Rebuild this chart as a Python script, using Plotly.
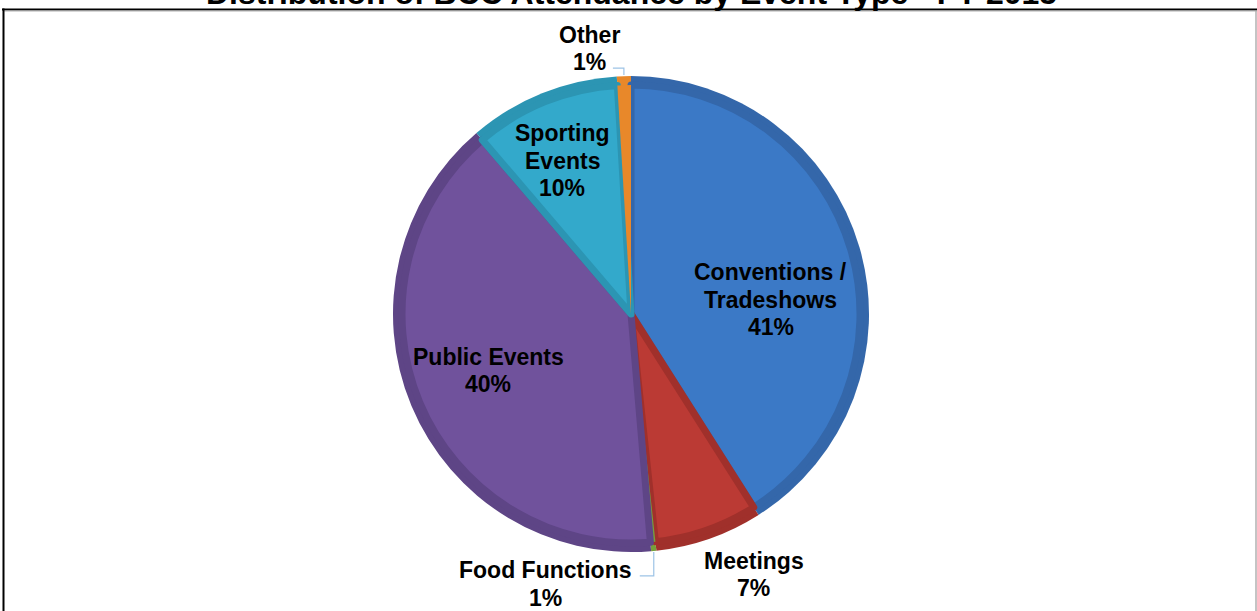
import numpy as np
import plotly.graph_objects as go

W, H = 1257, 611

# ---------------- data ----------------
categories = ["Conventions / Tradeshows", "Meetings", "Food Functions",
              "Public Events", "Sporting Events", "Other"]
shares = [41.0, 7.3, 0.35, 40.1, 10.3, 0.95]
pct_labels = ["41%", "7%", "1%", "40%", "10%", "1%"]
label_lines = [["Conventions /", "Tradeshows"], ["Meetings"], ["Food Functions"],
               ["Public Events"], ["Sporting", "Events"], ["Other"]]
title_text = "Distribution of BCC Attendance by Event Type - FY 2015"

# ---------------- style ----------------
light_colors = ["#3b79c6", "#bb3a34", "#76a03b", "#70529c", "#33a9cb", "#e8882a"]
dark_colors = ["#3467aa", "#a0302b", "#76a03b", "#5e4586", "#2c95b3", "#e8882a"]
line_w = [7, 7, 0, 7, 7, 0]

CX, CY, R = 631, 314, 238          # pie centre / radius in pixels
R_IN = 229
FONT = "Liberation Sans, Arial, sans-serif"
FS = 23
LINE_H = 27.5
leader_col = "#9dc3e6"

# label placement: (angle offset in deg from slice mid-angle, radius factor)
label_place = [(10.3, 0.59), (-6.0, 1.21), (23.1, 1.19), (1.1, 0.645), (-2.2, 0.705), (-7.2, 1.13)]


def px(x):
    return x / W


def py(y):
    return 1 - y / H


def domain(r):
    return dict(x=[px(CX - r), px(CX + r)], y=[py(CY + r), py(CY - r)])


fig = go.Figure()
common = dict(labels=categories, values=shares, sort=False, direction="clockwise",
              rotation=0, textinfo="none", hoverinfo="label+percent", showlegend=False)
fig.add_trace(go.Pie(domain=domain(R), marker=dict(colors=dark_colors, line=dict(width=0)), **common))
fig.add_trace(go.Pie(domain=domain(R_IN),
                     marker=dict(colors=light_colors, line=dict(color=dark_colors, width=line_w)),
                     **common))

# slice mid-angles (clockwise from 12 o'clock) derived from data
vals = np.array(shares, dtype=float)
frac = vals / vals.sum()
ends = np.cumsum(frac)
starts = ends - frac
mids = (starts + ends) / 2 * 360.0

annotations = []
shapes = []
for i, cat in enumerate(categories):
    off, rf = label_place[i]
    a = np.radians(mids[i] + off)
    lx = CX + rf * R * np.sin(a)
    ly = CY - rf * R * np.cos(a)
    lines = label_lines[i] + [pct_labels[i]]
    n = len(lines)
    for k, t in enumerate(lines):
        yy = ly + (k - (n - 1) / 2) * LINE_H
        annotations.append(dict(x=px(lx), y=py(yy), xref="paper", yref="paper",
                                text="<b>%s</b>" % t, showarrow=False,
                                xanchor="center", yanchor="middle",
                                font=dict(family=FONT, size=FS, color="#000000")))

# leader lines for the two small slices, starting at the slice edge
def edge(i):
    a = np.radians(mids[i])
    return CX + R * np.sin(a), CY - R * np.cos(a)

ex, ey = edge(5)  # Other
shapes.append(dict(type="path", xref="paper", yref="paper",
                   path="M %f %f L %f %f L %f %f" % (px(ex), py(ey - 1), px(ex), py(ey - 8), px(ex - 11), py(ey - 8)),
                   line=dict(color=leader_col, width=1.2)))
ex, ey = edge(2)  # Food Functions
shapes.append(dict(type="path", xref="paper", yref="paper",
                   path="M %f %f L %f %f L %f %f" % (px(ex), py(ey + 1), px(ex), py(ey + 25), px(ex - 14), py(ey + 25)),
                   line=dict(color=leader_col, width=1.2)))

# frame
shapes.append(dict(type="line", xref="paper", yref="paper", x0=px(2), x1=px(W), y0=py(9.5), y1=py(9.5),
                   line=dict(color="#000000", width=2)))
shapes.append(dict(type="line", xref="paper", yref="paper", x0=px(4), x1=px(W), y0=py(11), y1=py(11),
                   line=dict(color="#b0b0b0", width=1)))
shapes.append(dict(type="line", xref="paper", yref="paper", x0=px(3.5), x1=px(3.5), y0=py(8.5), y1=py(H),
                   line=dict(color="#000000", width=2)))
shapes.append(dict(type="line", xref="paper", yref="paper", x0=px(1256), x1=px(1256), y0=py(11), y1=py(H),
                   line=dict(color="#b0b0b0", width=1.5)))

# title (partly cut off at the top, as in the source)
annotations.append(dict(x=px(631.5), y=py(13), xref="paper", yref="paper", text="<b>%s</b>" % title_text,
                        showarrow=False, xanchor="center", yanchor="bottom",
                        font=dict(family=FONT, size=32, color="#000000")))

fig.update_layout(width=W, height=H, margin=dict(l=0, r=0, t=0, b=0),
                  paper_bgcolor="#ffffff", plot_bgcolor="#ffffff",
                  annotations=annotations, shapes=shapes)

fig.write_html("out.html")
